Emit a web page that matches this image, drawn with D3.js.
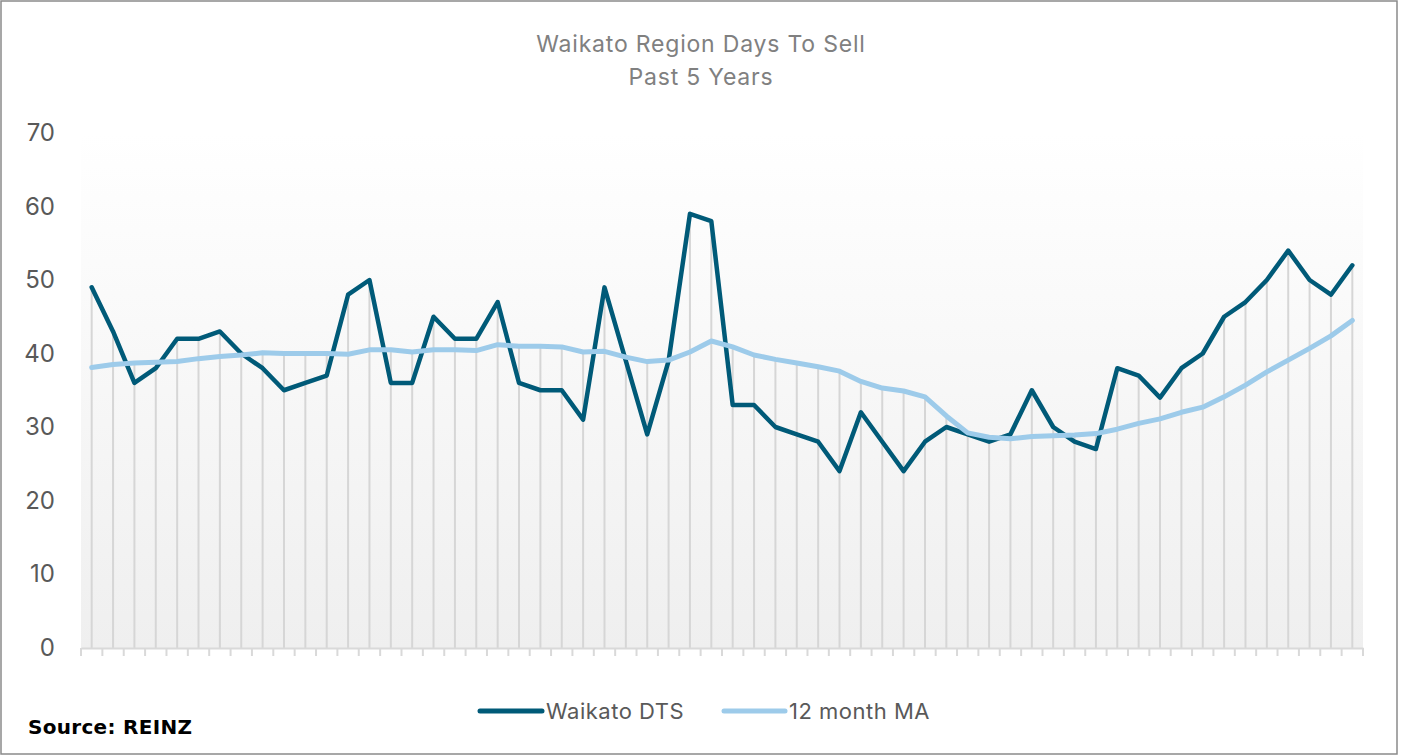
<!DOCTYPE html>
<html>
<head>
<meta charset="utf-8">
<script src="https://cdn.jsdelivr.net/npm/d3@7"></script>
<style>
  html, body { margin: 0; padding: 0; background: #fff; }
  svg { display: block; }
</style>
</head>
<body>
<svg id="chart" width="1403" height="756"></svg>
<script>
// ---- data ----
const categories = d3.range(1, 61).map(i => "M" + i);
const waikatoDTS = [49,43,36,38,42,42,43,40,38,35, 36,37,48,50,36,36,45,42,42,47,
                    36,35,35,31,49,39,29,39,59,58, 33,33,30,29,28,24,32,28,24,28,
                    30,29,28,29,35,30,28,27,38,37, 34,38,40,45,47,50,54,50,48,52];
const movingAvg12 = [38.1,38.5,38.7,38.8,38.9,39.3,39.6,39.8,40.1,40.0,
                     40.0,40.0,39.9,40.5,40.5,40.2,40.5,40.5,40.4,41.2,
                     41.0,41.0,40.9,40.2,40.3,39.5,38.9,39.1,40.2,41.7,
                     40.9,39.8,39.2,38.7,38.2,37.6,36.2,35.3,34.9,34.1,
                     31.5,29.2,28.6,28.4,28.7,28.8,28.9,29.1,29.7,30.5,
                     31.1,32.0,32.7,34.1,35.7,37.5,39.1,40.7,42.4,44.5];
const yTicks = [0,10,20,30,40,50,60,70];
const seriesNames = ["Waikato DTS", "12 month MA"];
const titleLines = ["Waikato Region Days To Sell", "Past 5 Years"];
const sourceText = "Source: REINZ";

// ---- layout ----
const FONT = "Inter, 'Noto Sans', sans-serif";
const svg = d3.select("#chart");
const plotL = 81, plotR = 1363, plotT = 133, plotB = 648;
const x = d3.scaleBand().domain(categories).range([plotL, plotR]).padding(0);
const y = d3.scaleLinear().domain([0, 70]).range([647.5, 133]);
const cx = d => x(d) + x.bandwidth() / 2;

// border
svg.append("rect").attr("x", 1).attr("y", 1).attr("width", 1396).attr("height", 753)
  .attr("fill", "#fff").attr("stroke", "#8a8a8a").attr("stroke-width", 1.5);

// gradient plot bg
const defs = svg.append("defs");
const grad = defs.append("linearGradient").attr("id", "bg").attr("x1", 0).attr("y1", 0).attr("x2", 0).attr("y2", 1);
grad.append("stop").attr("offset", "0%").attr("stop-color", "#ffffff");
grad.append("stop").attr("offset", "100%").attr("stop-color", "#efefef");
svg.append("rect").attr("x", plotL).attr("y", plotT).attr("width", plotR - plotL).attr("height", plotB - plotT)
  .attr("fill", "url(#bg)");

// title
svg.append("g").selectAll("text").data(titleLines).join("text")
  .attr("x", 701).attr("y", (d, i) => 52 + i * 33)
  .attr("text-anchor", "middle").attr("font-size", 23).attr("letter-spacing", 0.8).attr("fill", "#808080")
  .style("font-family", FONT)
  .text(d => d);

// y axis (labels only)
const yAxis = d3.axisLeft(y).tickValues(yTicks).tickSize(0).tickPadding(0);
const gy = svg.append("g").attr("transform", "translate(55,0)").call(yAxis);
gy.select(".domain").remove();
gy.selectAll("text").attr("font-size", 24).attr("fill", "#595959").style("font-family", FONT);

// drop lines
svg.append("g").selectAll("line").data(categories).join("line")
  .attr("x1", d => cx(d)).attr("x2", d => cx(d))
  .attr("y1", plotB)
  .attr("y2", (d, i) => y(Math.max(waikatoDTS[i], movingAvg12[i])))
  .attr("stroke", "#d6d6d6").attr("stroke-width", 2);

// x axis line and ticks between categories
const xAxis = d3.axisBottom(x).tickSize(0).tickFormat("");
const gx = svg.append("g").attr("transform", `translate(0,${plotB})`).call(xAxis);
gx.select(".domain").attr("stroke", "#d9d9d9").attr("stroke-width", 2);
gx.selectAll(".tick").remove();
const boundaries = categories.map(d => x(d)).concat([plotR]);
svg.append("g").selectAll("line").data(boundaries).join("line")
  .attr("x1", d => d).attr("x2", d => d).attr("y1", plotB).attr("y2", plotB + 8)
  .attr("stroke", "#d9d9d9").attr("stroke-width", 2);

// lines
const line = d3.line().x((d, i) => cx(categories[i])).y(d => y(d));
svg.append("path").datum(waikatoDTS).attr("d", line)
  .attr("fill", "none").attr("stroke", "#005a78").attr("stroke-width", 4.5)
  .attr("stroke-linejoin", "round").attr("stroke-linecap", "round");
svg.append("path").datum(movingAvg12).attr("d", line)
  .attr("fill", "none").attr("stroke", "#9dcbea").attr("stroke-width", 5)
  .attr("stroke-linejoin", "round").attr("stroke-linecap", "round");

// legend
const legendItems = [
  {name: seriesNames[0], color: "#005a78", x0: 480, x1: 542, tx: 546},
  {name: seriesNames[1], color: "#9dcbea", x0: 724, x1: 785, tx: 789}
];
const lg = svg.append("g");
lg.selectAll("line").data(legendItems).join("line")
  .attr("x1", d => d.x0).attr("x2", d => d.x1).attr("y1", 711).attr("y2", 711)
  .attr("stroke", d => d.color).attr("stroke-width", 5).attr("stroke-linecap", "round");
lg.selectAll("text").data(legendItems).join("text")
  .attr("x", d => d.tx).attr("y", 719).attr("font-size", 22).attr("letter-spacing", 0.5).attr("fill", "#595959")
  .style("font-family", FONT)
  .text(d => d.name);

// source
svg.append("text").attr("x", 28).attr("y", 734).attr("font-size", 20).attr("font-weight", 700)
  .attr("letter-spacing", 0.3)
  .style("font-family", "'DejaVu Sans', sans-serif")
  .attr("fill", "#000").text(sourceText);
</script>
</body>
</html>
